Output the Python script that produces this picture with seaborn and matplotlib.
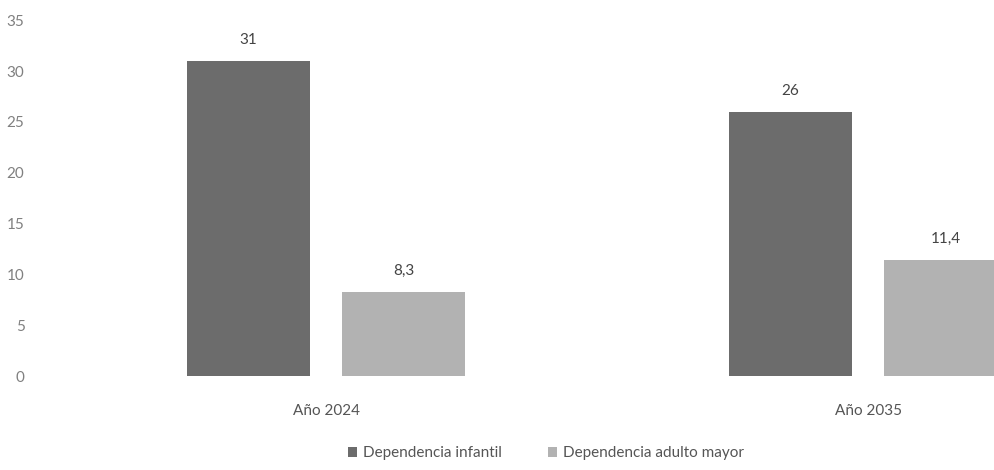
import matplotlib
matplotlib.use("Agg")
import matplotlib.pyplot as plt
import seaborn as sns
import pandas as pd

# datos
categorias = ["Año 2024", "Año 2035"]
series = ["Dependencia infantil", "Dependencia adulto mayor"]
infantil = [31, 26]
adulto_mayor = [8.3, 11.4]
colores = ["#6c6c6c", "#b2b2b2"]

df = pd.DataFrame({
    "anio": categorias * 2,
    "serie": [series[0]] * 2 + [series[1]] * 2,
    "valor": infantil + adulto_mayor,
})

sns.set_style("white")
plt.rcParams["font.family"] = ["Lato", "DejaVu Sans"]

fig = plt.figure(figsize=(9.95, 4.7), dpi=100)
ax = fig.add_axes([0.04, 0.2, 0.96, 0.757])

sns.barplot(data=df, x="anio", y="valor", hue="serie", hue_order=series,
            palette=colores, width=0.572, gap=0.21, saturation=1,
            edgecolor="none", ax=ax, legend=True)

for cont in ax.containers:
    etiquetas = [f"{v:g}".replace(".", ",") for v in cont.datavalues]
    ax.bar_label(cont, labels=etiquetas, padding=10, fontsize=11, color="#444444")

ax.set_xlim(-0.528, 1.234)
ax.set_ylim(0, 35)
ax.set_yticks(range(0, 36, 5))
ax.set_xlabel("")
ax.set_ylabel("")
sns.despine(ax=ax, left=True, bottom=True)
ax.tick_params(axis="y", labelsize=11, labelcolor="#808080", pad=11, length=0)
ax.tick_params(axis="x", labelsize=11, labelcolor="#555555", pad=20, length=0)

leg = ax.legend(loc="lower center", bbox_to_anchor=(0.53, -0.275), ncol=2,
                frameon=False, fontsize=11, handlelength=0.6, handleheight=0.6,
                handletextpad=0.4, columnspacing=3)
for t in leg.get_texts():
    t.set_color("#555555")

fig.savefig("out.png", dpi=100)
